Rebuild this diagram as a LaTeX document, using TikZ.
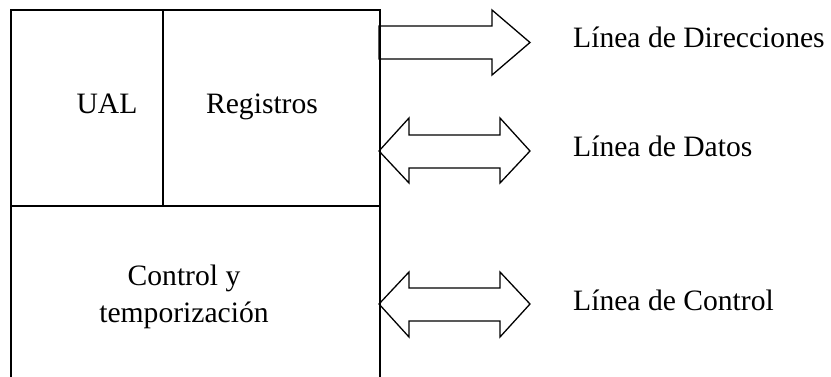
\documentclass[tikz,border=0pt]{standalone}
\usepackage{fontspec}
\setmainfont{Liberation Serif}
\begin{document}
\begin{tikzpicture}[x=1pt,y=-1pt,
  edge/.style={draw=black,line width=1.3pt,line join=miter},
  txt/.style={font=\fontsize{29.6}{36}\selectfont,inner sep=0pt,anchor=base},
  lbl/.style={font=\fontsize{29.6}{36}\selectfont,inner sep=0pt,anchor=base west}]
\useasboundingbox (0,0) rectangle (831,377);
% processor outline (open at the bottom) and its inner partitions
\draw[edge] (11,377) -- (11,10) -- (380,10) -- (380,377);
\draw[edge] (11,206) -- (380,206);
\draw[edge] (163,10) -- (163,206);
% block texts
\node[txt] (ual) at (107,114) {UAL};
\node[txt] (reg) at (262,114) {Registros};
\node[txt,align=center] (ctl) at (184,322) {Control y\\temporización};
% address bus: one-way block arrow
\draw[edge] (379,26) -- (492,26) -- (492,10) -- (530,42.5) -- (492,75) -- (492,59) -- (379,59) -- cycle;
% data bus: two-way block arrow
\draw[edge] (379,151) -- (409,118) -- (409,135) -- (500,135) -- (500,118) -- (530,151)
  -- (500,183) -- (500,168) -- (409,168) -- (409,183) -- cycle;
% control bus: two-way block arrow
\draw[edge] (379,304) -- (409,272) -- (409,288) -- (500,288) -- (500,272) -- (530,304)
  -- (500,337) -- (500,321) -- (409,321) -- (409,337) -- cycle;
% bus labels
\node[lbl] (ldir) at (573,48) {Línea de Direcciones};
\node[lbl] (ldat) at (573,157) {Línea de Datos};
\node[lbl] (lctl) at (573,310) {Línea de Control};
\end{tikzpicture}
\end{document}
